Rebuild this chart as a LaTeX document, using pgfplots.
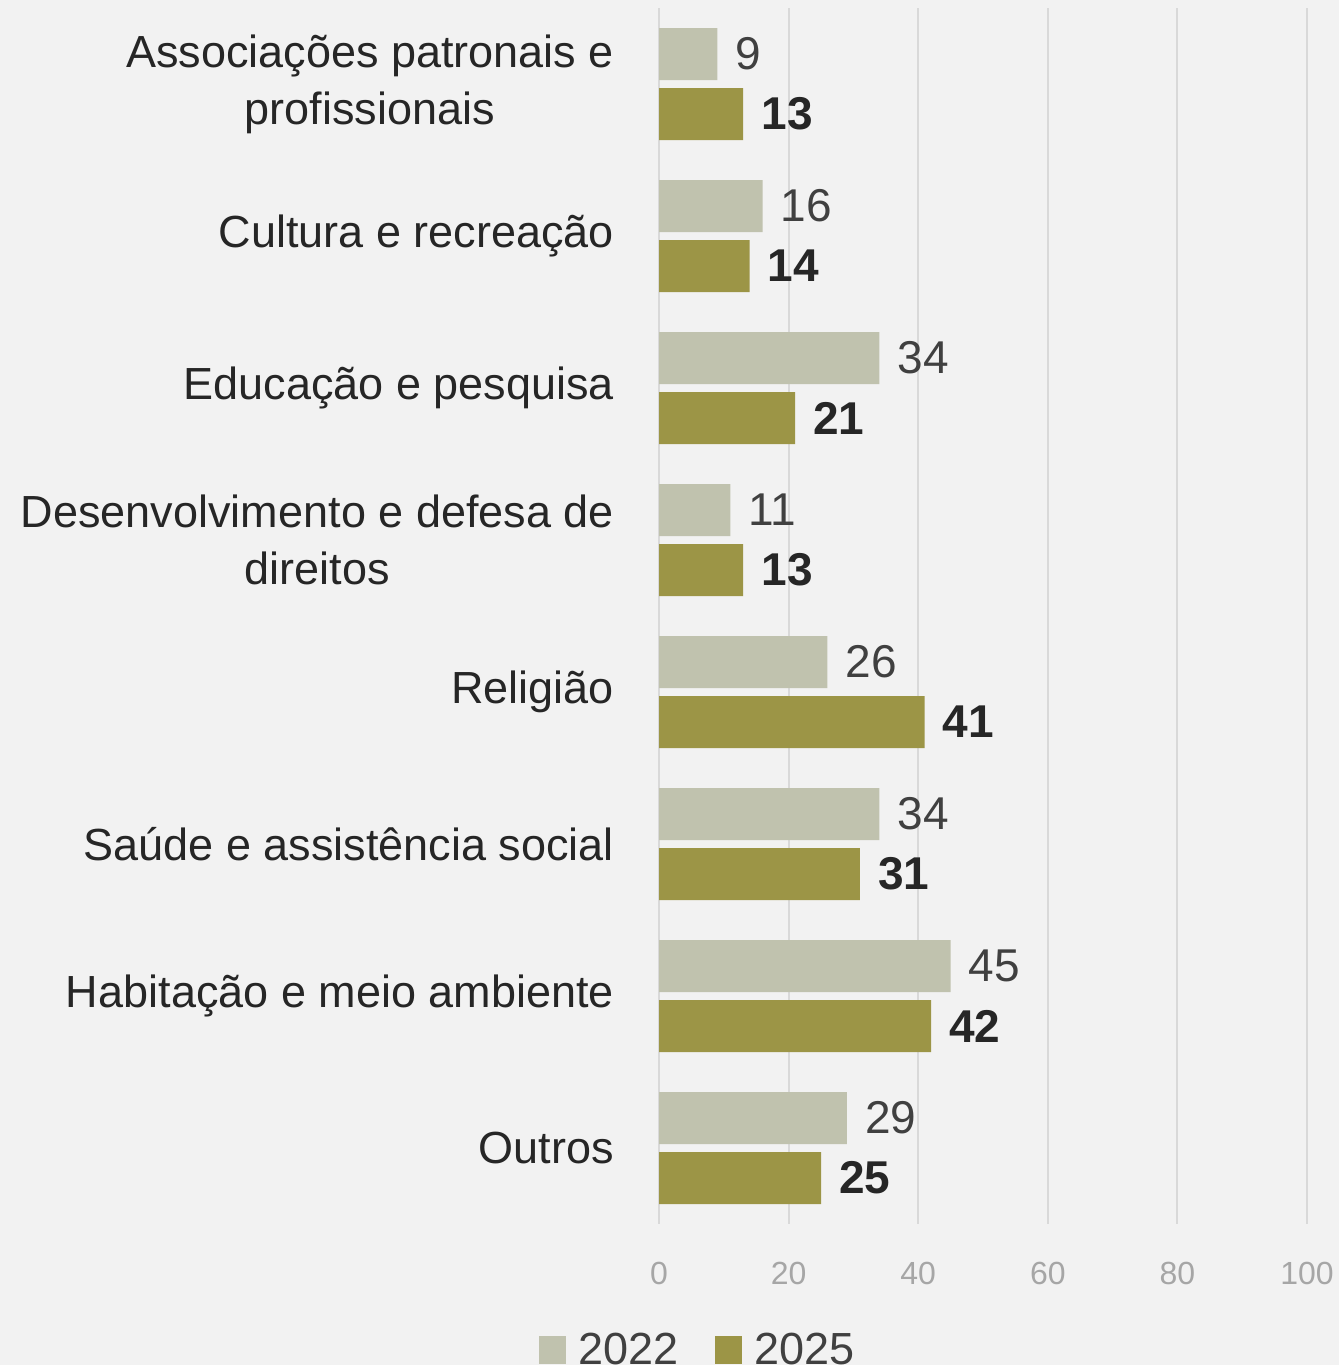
\documentclass[border=0pt]{standalone}
\usepackage{fontspec}
\setmainfont{Liberation Sans}
\usepackage{pgfplots}
\pgfplotsset{compat=1.18}
\definecolor{bg}{HTML}{F2F2F2}
\definecolor{c22}{HTML}{C0C2AE}
\definecolor{c25}{HTML}{9C9546}
\definecolor{gridc}{HTML}{D9D9D9}
\definecolor{tickc}{HTML}{A6A6A6}
\definecolor{txt}{HTML}{262626}
\definecolor{lbl}{HTML}{404040}

\begin{document}
\begin{tikzpicture}[x=1pt,y=1pt]
\fill[bg] (0,0) rectangle (1339,1365);
\useasboundingbox (0,0) rectangle (1339,1365);
\begin{axis}[
    at={(659pt,141pt)}, anchor=south west,
    scale only axis, width=648pt, height=1216pt,
    xmin=0, xmax=100, ymin=-0.5, ymax=7.5, y dir=reverse,
    xtick={0,20,...,100}, ytick={0,...,7},
    yticklabels={{Associações patronais e\\profissionais},
                 {Cultura e recreação},
                 {Educação e pesquisa},
                 {Desenvolvimento e defesa de\\direitos},
                 {Religião},
                 {Saúde e assistência social},
                 {Habitação e meio ambiente},
                 {Outros}},
    xmajorgrids, grid style={gridc, line width=2pt},
    axis line style={draw=none}, major tick length=0pt,
    /pgf/number format/assume math mode=true,
    yticklabel style={align=center, anchor=east, inner sep=0pt, xshift=-45pt,
        text=txt, font=\fontsize{45}{57}\selectfont},
    xticklabel style={anchor=center, inner sep=0pt, yshift=-49pt,
        text=tickc, font=\fontsize{32}{38}\selectfont},
    xbar, bar width=52pt, clip=false,
    nodes near coords,
    legend columns=2,
    legend style={draw=none, fill=none, at={(-0.186,-0.1036)}, anchor=west,
        font=\fontsize{45}{54}\selectfont, text=lbl, inner sep=0pt,
        nodes={inner sep=0pt},
        /tikz/every odd column/.append style={column sep=13pt},
        /tikz/every even column/.append style={column sep=36pt}},
    legend image code/.code={\fill[#1] (0pt,-14pt) rectangle (27pt,14pt);},
]
\addplot[draw=none, fill=c22, bar shift=30pt,
    every node near coord/.append style={anchor=west, inner sep=0pt, xshift=18pt,
        text=lbl, font=\fontsize{46}{50}\selectfont}]
    coordinates {(9,0) (16,1) (34,2) (11,3) (26,4) (34,5) (45,6) (29,7)};
\addplot[draw=none, fill=c25, bar shift=-30pt,
    every node near coord/.append style={anchor=west, inner sep=0pt, xshift=18pt,
        text=txt, font=\fontsize{46}{50}\selectfont\bfseries}]
    coordinates {(13,0) (14,1) (21,2) (13,3) (41,4) (31,5) (42,6) (25,7)};
\legend{2022,2025}
\end{axis}
\end{tikzpicture}
\end{document}
